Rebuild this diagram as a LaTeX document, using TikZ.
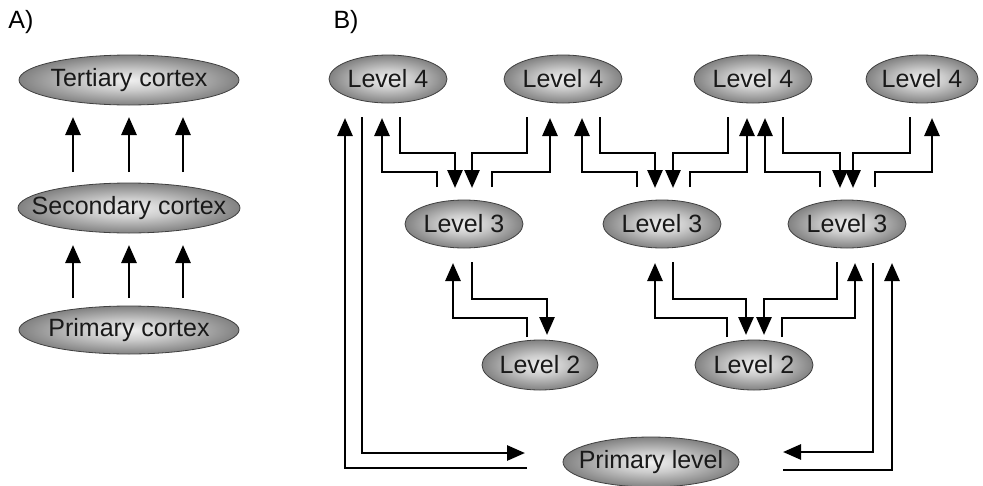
\documentclass[tikz,border=0pt]{standalone}
\usepackage{fontspec}
\setmainfont{Liberation Sans}
\usetikzlibrary{shapes.geometric,arrows.meta,calc}
\pgfdeclareradialshading{ellshade}{\pgfpoint{0bp}{0bp}}{color(0bp)=(black!6);color(10bp)=(black!20);color(28bp)=(black!55);color(42bp)=(black!78);color(50bp)=(black!88)}
\newcommand\ztxt[1]{\makebox[0pt][c]{#1}}
\tikzset{
  ell/.style={ellipse, draw=black!75, line width=0.8pt, shading=ellshade, inner sep=0pt, font=\fontsize{25}{28}\selectfont, text=black!90},
  lev/.style={ell, minimum width=118pt, minimum height=48pt},
  arr/.style={line width=2.8pt, -{Triangle[length=18pt,width=15pt]}},
  lbl/.style={font=\fontsize{25}{28}\selectfont, inner sep=0pt}
}
\begin{document}
\begin{tikzpicture}[x=1pt,y=-1pt]
\useasboundingbox (0,0) rectangle (983,485);
% labels
\node[lbl] (lA) at (21,22) {A)};
\node[lbl] (lB) at (346,22) {B)};
% Panel A
\node[ell, minimum width=220pt, minimum height=50pt] (TA) at (129,80) {\ztxt{Tertiary cortex}};
\node[ell, minimum width=222pt, minimum height=50pt] (SA) at (129,208) {\ztxt{Secondary cortex}};
\node[ell, minimum width=220pt, minimum height=48pt] (PA) at (129,330) {\ztxt{Primary cortex}};
\foreach \dx in {-56,0,54}{
  \draw[arr] ($(SA)+(\dx,-36)$) -- ($(TA)+(\dx,37)$);
  \draw[arr] ($(PA)+(\dx,-32)$) -- ($(SA)+(\dx,37)$);
}
% Panel B nodes
\node[lev] (L4a) at (388,79) {\ztxt{Level 4}};
\node[lev] (L4b) at (563,79) {\ztxt{Level 4}};
\node[lev] (L4c) at (753,79) {\ztxt{Level 4}};
\node[lev, minimum width=112pt] (L4d) at (922,79) {\ztxt{Level 4}};
\node[lev] (L3a) at (464,224) {\ztxt{Level 3}};
\node[lev] (L3b) at (662,224) {\ztxt{Level 3}};
\node[lev] (L3c) at (847,224) {\ztxt{Level 3}};
\node[lev, minimum width=116pt, minimum height=50pt] (L2a) at (540,365) {\ztxt{Level 2}};
\node[lev, minimum width=118pt, minimum height=50pt] (L2b) at (754,365) {\ztxt{Level 2}};
\node[lev, minimum width=176pt, minimum height=50pt] (P) at (651,462) {\ztxt{Primary level}};
% group 1
\draw[arr] ($(L3a)+(-27,-37)$) -- ++(0,-15) -| ($(L4a)+(-6,39)$);
\draw[arr] ($(L4a)+(12,38)$) -- ++(0,36) -| ($(L3a)+(-9,-36)$);
\draw[arr] ($(L4b)+(-36,38)$) -- ++(0,36) -| ($(L3a)+(8,-36)$);
\draw[arr] ($(L3a)+(28,-37)$) -- ++(0,-15) -| ($(L4b)+(-13,39)$);
% group 2
\draw[arr] ($(L3b)+(-25,-37)$) -- ++(0,-15) -| ($(L4b)+(19,39)$);
\draw[arr] ($(L4b)+(37,38)$) -- ++(0,36) -| ($(L3b)+(-7,-36)$);
\draw[arr] ($(L4c)+(-25,38)$) -- ++(0,36) -| ($(L3b)+(11,-36)$);
\draw[arr] ($(L3b)+(28,-37)$) -- ++(0,-15) -| ($(L4c)+(-6,39)$);
% group 3
\draw[arr] ($(L3c)+(-27,-37)$) -- ++(0,-15) -| ($(L4c)+(12,39)$);
\draw[arr] ($(L4c)+(30,38)$) -- ++(0,36) -| ($(L3c)+(-7,-36)$);
\draw[arr] ($(L4d)+(-12,38)$) -- ++(0,36) -| ($(L3c)+(6,-36)$);
\draw[arr] ($(L3c)+(28,-37)$) -- ++(0,-15) -| ($(L4d)+(10,39)$);
% group 4
\draw[arr] ($(L2a)+(-13,-28)$) -- ++(0,-19) -| ($(L3a)+(-11,39)$);
\draw[arr] ($(L3a)+(8,38)$) -- ++(0,37) -| ($(L2a)+(7,-30)$);
% group 5
\draw[arr] ($(L2b)+(-27,-28)$) -- ++(0,-19) -| ($(L3b)+(-7,39)$);
\draw[arr] ($(L3b)+(11,38)$) -- ++(0,37) -| ($(L2b)+(-8,-30)$);
\draw[arr] ($(L3c)+(-10,38)$) -- ++(0,37) -| ($(L2b)+(10,-30)$);
\draw[arr] ($(L2b)+(28,-28)$) -- ++(0,-19) -| ($(L3c)+(8,39)$);
% long connectors
\draw[arr] ($(L4a)+(-26,38)$) |- ($(P)+(-126,-9)$);
\draw[arr] ($(P)+(-124,6)$) -| ($(L4a)+(-43,39)$);
\draw[arr] ($(L3c)+(26,39)$) |- ($(P)+(132,-10)$);
\draw[arr] ($(P)+(132,8)$) -| ($(L3c)+(45,39)$);
\end{tikzpicture}
\end{document}
